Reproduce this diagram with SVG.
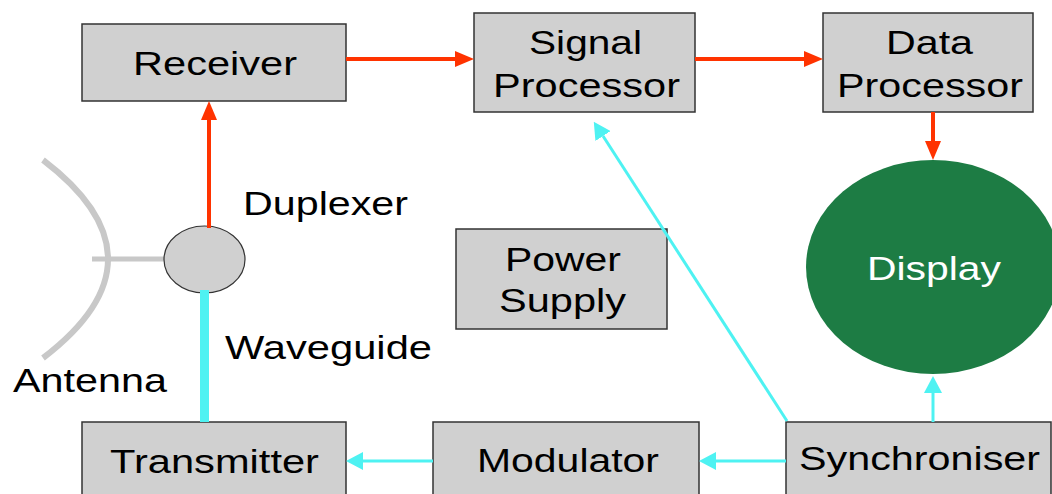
<svg xmlns="http://www.w3.org/2000/svg" width="1052" height="494" viewBox="0 0 1052 494">
<style>
.box{fill:#d0d0d0;stroke:#333333;stroke-width:1.5}
.t{font-family:"Liberation Sans",Arial,sans-serif;font-size:33px;fill:#000}
.red{stroke:#ff3300;stroke-width:4;fill:none}
.cy{stroke:#4ef2f2;stroke-width:3;fill:none}
</style>
<defs>
<marker id="rh" viewBox="0 0 19 16" refX="0" refY="8" markerWidth="19" markerHeight="16" markerUnits="userSpaceOnUse" orient="auto">
<path d="M0 0 L19 8 L0 16 z" fill="#ff3300"/>
</marker>
<marker id="ch" viewBox="0 0 17 18" refX="0" refY="9" markerWidth="17" markerHeight="18" markerUnits="userSpaceOnUse" orient="auto">
<path d="M0 0 L17 9 L0 18 z" fill="#4ef2f2"/>
</marker>
</defs>
<g id="antenna">
<path d="M43 160 Q173 259 43 358" stroke="#c8c8c8" stroke-width="6" fill="none"/>
<line x1="92" y1="259" x2="164" y2="259" stroke="#c8c8c8" stroke-width="5"/>
<text class="t" x="13" y="392" textLength="154" lengthAdjust="spacingAndGlyphs">Antenna</text>
</g>
<g id="duplexer">
<ellipse cx="204.5" cy="259.5" rx="40.5" ry="33.5" fill="#d0d0d0" stroke="#333" stroke-width="1.2"/>
<text class="t" x="243" y="215" textLength="165" lengthAdjust="spacingAndGlyphs">Duplexer</text>
</g>
<g id="receiver">
<rect class="box" x="82" y="24" width="264" height="77"/>
<text class="t" x="133" y="75" textLength="164" lengthAdjust="spacingAndGlyphs">Receiver</text>
</g>
<g id="signal-processor">
<rect class="box" x="474" y="13" width="221" height="99"/>
<text class="t" x="529" y="54" textLength="113" lengthAdjust="spacingAndGlyphs">Signal</text>
<text class="t" x="493" y="97" textLength="187" lengthAdjust="spacingAndGlyphs">Processor</text>
</g>
<g id="data-processor">
<rect class="box" x="823" y="13" width="210" height="99"/>
<text class="t" x="886" y="54" textLength="87" lengthAdjust="spacingAndGlyphs">Data</text>
<text class="t" x="837" y="97" textLength="186" lengthAdjust="spacingAndGlyphs">Processor</text>
</g>
<g id="power-supply">
<rect class="box" x="456" y="229" width="211" height="100"/>
<text class="t" x="505" y="271" textLength="116" lengthAdjust="spacingAndGlyphs">Power</text>
<text class="t" x="499" y="312" textLength="127" lengthAdjust="spacingAndGlyphs">Supply</text>
</g>
<g id="display">
<ellipse cx="933" cy="267" rx="127" ry="107" fill="#1d7c44"/>
<text class="t" x="867" y="280" textLength="134" lengthAdjust="spacingAndGlyphs" style="fill:#ffffff">Display</text>
</g>
<g id="transmitter">
<rect class="box" x="82" y="422" width="264" height="80"/>
<text class="t" x="110" y="473" textLength="209" lengthAdjust="spacingAndGlyphs">Transmitter</text>
</g>
<g id="modulator">
<rect class="box" x="433" y="422" width="266" height="80"/>
<text class="t" x="477" y="472" textLength="182" lengthAdjust="spacingAndGlyphs">Modulator</text>
</g>
<g id="synchroniser">
<rect class="box" x="786" y="422" width="265" height="80"/>
<text class="t" x="799" y="470" textLength="241" lengthAdjust="spacingAndGlyphs">Synchroniser</text>
</g>
<g id="connectors">
<line class="red" x1="209" y1="228" x2="209" y2="120" marker-end="url(#rh)"/>
<line class="red" x1="346" y1="59" x2="455" y2="59" marker-end="url(#rh)"/>
<line class="red" x1="695" y1="59" x2="804" y2="59" marker-end="url(#rh)"/>
<line class="red" x1="933" y1="112" x2="933" y2="141" marker-end="url(#rh)"/>
<rect x="200" y="290" width="9" height="132" fill="#4ef2f2"/>
<line class="cy" x1="933" y1="422" x2="933" y2="393" marker-end="url(#ch)"/>
<line class="cy" x1="786" y1="461" x2="716" y2="461" marker-end="url(#ch)"/>
<line class="cy" x1="433" y1="461" x2="363" y2="461" marker-end="url(#ch)"/>
<line class="cy" x1="787" y1="421" x2="603" y2="136" marker-end="url(#ch)"/>
</g>
<text x="225" y="359" class="t" textLength="207" lengthAdjust="spacingAndGlyphs">Waveguide</text>
</svg>
